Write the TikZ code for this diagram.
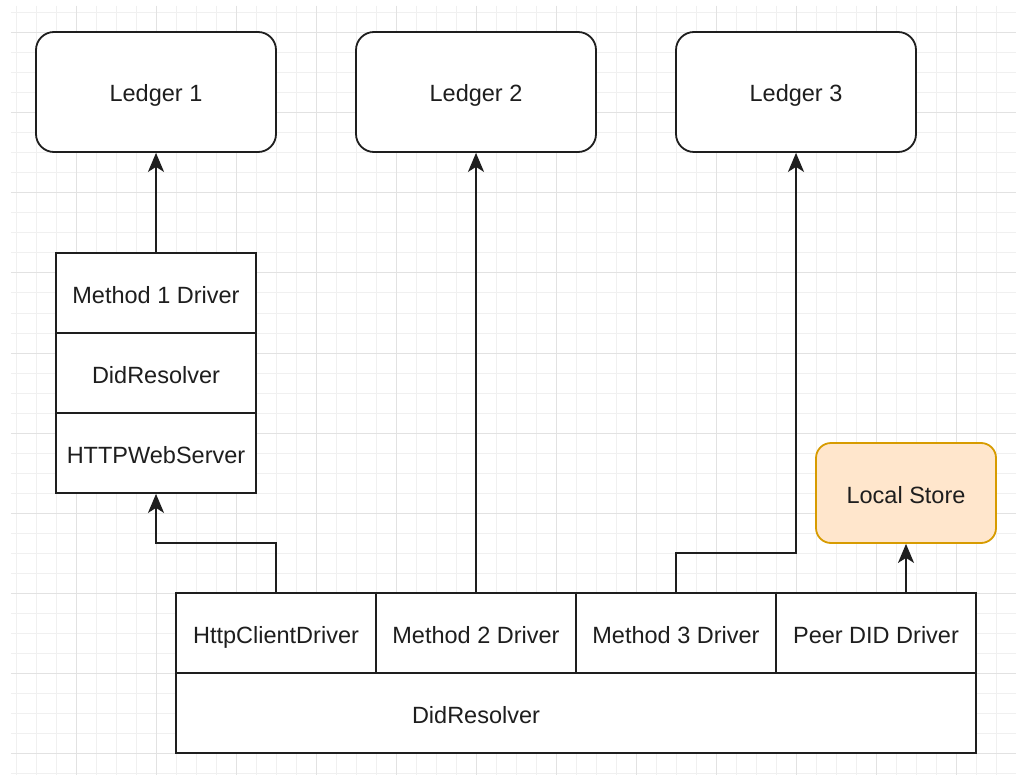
\documentclass[tikz,border=0pt]{standalone}
\usepackage{fontspec}
\setmainfont{Liberation Sans}
\usetikzlibrary{arrows.meta}
\definecolor{minorgrid}{HTML}{F0F0F0}
\definecolor{majorgrid}{HTML}{E2E2E2}
\definecolor{ink}{HTML}{1E1E1E}
\definecolor{storefill}{HTML}{FFE6CC}
\definecolor{storeline}{HTML}{D79B00}
\tikzset{
  label text/.style={text=ink, font=\fontsize{23.5}{28}\selectfont,
    text height=22pt, text depth=2pt},
  base/.style={draw=ink, line width=1.8pt, inner sep=0pt, label text},
  ledger/.style={base, rounded corners=18pt, fill=white,
    minimum width=240pt, minimum height=120pt},
  cell/.style={base, fill=white, minimum width=200pt, minimum height=80pt},
  store/.style={base, draw=storeline, fill=storefill, rounded corners=15pt,
    minimum width=180pt, minimum height=100pt},
  link/.style={draw=ink, line width=1.8pt,
    -{Stealth[length=19pt, width=16pt, inset=5pt]}},
  gridthin/.style={draw=minorgrid, line width=1pt},
  gridthick/.style={draw=majorgrid, line width=1pt},
}
\begin{document}
\begin{tikzpicture}[x=1pt, y=-1pt]
  \useasboundingbox[fill=white] (0,0) rectangle (1016,775);

  % background grid
  \foreach \x in {16,36,...,1016} \draw[gridthin] (\x,6) -- (\x,775);
  \foreach \y in {13,33,...,773} \draw[gridthin] (11,\y) -- (1016,\y);
  \foreach \x in {76,156,...,1000} \draw[gridthick] (\x,6) -- (\x,775);
  \foreach \y in {33,113,...,760} \draw[gridthick] (11,\y) -- (1016,\y);

  % ledgers
  \node[ledger] (l1) at (156,92) {Ledger 1};
  \node[ledger] (l2) at (476,92) {Ledger 2};
  \node[ledger] (l3) at (796,92) {Ledger 3};

  % resolver web service
  \node[cell] (m1)  at (156,293) {Method 1 Driver};
  \node[cell] (dr1) at (156,373) {DidResolver};
  \node[cell] (web) at (156,453) {HTTPWebServer};

  % local store
  \node[store] (store) at (906,493) {Local Store};

  % client-side resolver
  \node[base, fill=white, minimum width=800pt, minimum height=80pt] (dr2) at (576,713) {};
  \node[label text, inner sep=0pt] (dr2text) at (476,713) {DidResolver};
  \node[cell] (http) at (276,633) {HttpClientDriver};
  \node[cell] (m2)   at (476,633) {Method 2 Driver};
  \node[cell] (m3)   at (676,633) {Method 3 Driver};
  \node[cell] (peer) at (876,633) {Peer DID Driver};

  % connectors
  \coordinate (bend1) at (276,543);
  \coordinate (bend3) at (676,553);
  \coordinate (peertop) at (906,593);
  \draw[link] (m1.north) -- (l1.south);
  \draw[link] (http.north) -- (bend1) -| (web.south);
  \draw[link] (m2.north) -- (l2.south);
  \draw[link] (m3.north) -- (bend3) -| (l3.south);
  \draw[link] (peertop) -- (store.south);
\end{tikzpicture}
\end{document}
